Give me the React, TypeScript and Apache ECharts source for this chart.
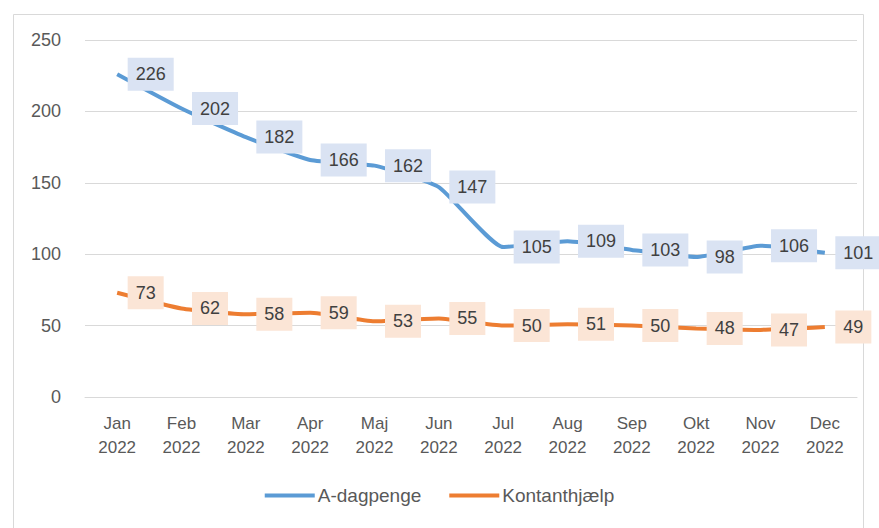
import React, { useEffect, useRef } from "react";
import * as echarts from "echarts";

const categories = ["Jan\n2022", "Feb\n2022", "Mar\n2022", "Apr\n2022", "Maj\n2022", "Jun\n2022", "Jul\n2022", "Aug\n2022", "Sep\n2022", "Okt\n2022", "Nov\n2022", "Dec\n2022"];
const aDagpenge = [226, 202, 182, 166, 162, 147, 105, 109, 103, 98, 106, 101];
const kontanthjaelp = [73, 62, 58, 59, 53, 55, 50, 51, 50, 48, 47, 49];
const seriesNames = ["A-dagpenge", "Kontanthjælp"];
const seriesColors = ["#5B9BD5", "#ED7D31"];

const FONT = "'Liberation Sans', Arial, sans-serif";

export default function App() {
  const ref = useRef<HTMLDivElement>(null);
  useEffect(() => {
    if (!ref.current) return;
    const chart = echarts.init(ref.current, null, { renderer: "svg" });
    const mkLabel = (bg: string) => ({
      show: true,
      position: "right",
      distance: 10,
      color: "#404040",
      fontSize: 18,
      fontFamily: FONT,
      backgroundColor: bg,
      padding: [8, 8, 7, 8],
    });
    chart.setOption({
      animation: false,
      backgroundColor: "#ffffff",
      graphic: [
        {
          type: "rect",
          shape: { x: 13.5, y: 14.5, width: 850, height: 530 },
          style: { fill: "none", stroke: "#D9D9D9", lineWidth: 1 },
          silent: true,
        },
      ],
      grid: { left: 85, right: 22, top: 40, bottom: 131 },
      legend: {
        bottom: 18,
        left: "center",
        itemWidth: 50,
        itemHeight: 4,
        itemGap: 28,
        icon: "rect",
        textStyle: { color: "#595959", fontSize: 19, fontFamily: FONT, padding: [0, 0, 0, -2] },
        data: seriesNames.map((n, i) => ({ name: n, itemStyle: { color: seriesColors[i], opacity: 1 } })),
      },
      xAxis: {
        type: "category",
        data: categories,
        boundaryGap: true,
        axisLine: { show: true, lineStyle: { color: "#D9D9D9", width: 1 } },
        axisTick: { show: false },
        axisLabel: { color: "#595959", fontSize: 17, fontFamily: FONT, lineHeight: 24, margin: 14 },
      },
      yAxis: {
        type: "value",
        min: 0,
        max: 250,
        interval: 50,
        axisLine: { show: false },
        axisTick: { show: false },
        splitLine: { lineStyle: { color: "#D9D9D9", width: 1 } },
        axisLabel: { color: "#595959", fontSize: 18, fontFamily: FONT, margin: 24 },
      },
      series: [
        {
          name: seriesNames[0],
          type: "line",
          data: aDagpenge,
          smooth: 0.15,
          symbol: "circle",
          symbolSize: 1,
          showSymbol: true,
          lineStyle: { color: seriesColors[0], width: 4 },
          itemStyle: { color: "rgba(91,155,213,0)" },
          label: mkLabel("#DAE3F3"),
        },
        {
          name: seriesNames[1],
          type: "line",
          data: kontanthjaelp,
          smooth: 0.15,
          symbol: "circle",
          symbolSize: 1,
          showSymbol: true,
          lineStyle: { color: seriesColors[1], width: 4 },
          itemStyle: { color: "rgba(237,125,49,0)" },
          label: mkLabel("#FBE5D6"),
        },
      ],
    });
    return () => chart.dispose();
  }, []);
  return <div ref={ref} style={{ position: "fixed", left: 0, top: 0, width: 879, height: 528 }} />;
}
